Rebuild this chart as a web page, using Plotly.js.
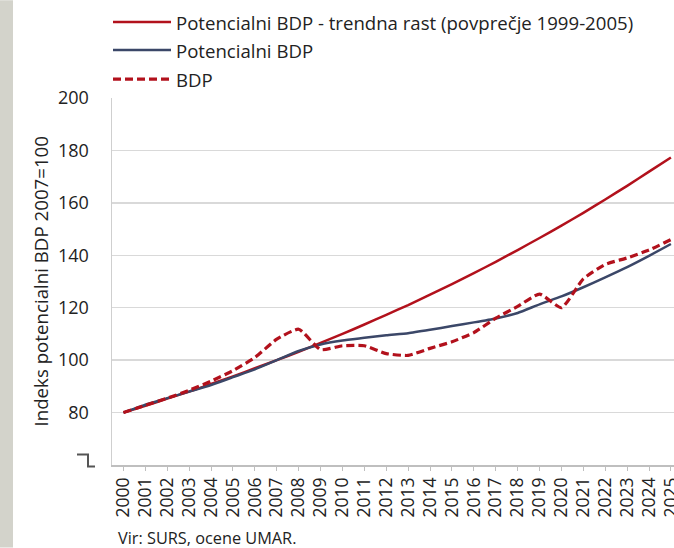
<!DOCTYPE html>
<html>
<head>
<meta charset="utf-8">
<script src="https://cdn.plot.ly/plotly-3.0.1.min.js"></script>
<style>html,body{margin:0;padding:0;background:#fff;}#chart{width:674px;height:548px;}</style>
</head>
<body>
<div id="chart"></div>
<script>
const years = [2000,2001,2002,2003,2004,2005,2006,2007,2008,2009,2010,2011,2012,2013,2014,2015,2016,2017,2018,2019,2020,2021,2022,2023,2024,2025];
const trend = [80,82.6,85.3,88.0,90.9,93.8,96.9,100,103.2,106.6,110.0,113.6,117.3,121.0,125.0,129.0,133.2,137.5,142.0,146.6,151.3,156.2,161.3,166.5,171.9,177.3];
const potential = [80,83,85.5,88,90.5,93.5,96.5,100,103.5,106,107.5,108.5,109.5,110.3,111.6,113,114.4,115.9,118,121.3,124.3,127.8,131.6,135.5,139.8,144.3];
const gdp = [80,82.8,85.5,88.5,92,96,101,108,111.8,104,105.5,105.5,102.5,101.8,104.5,107,110.5,116,120.5,125.2,120,131,136.5,139,142,146];
const seriesNames = ['Potencialni BDP - trendna rast (povprečje 1999-2005)','Potencialni BDP','BDP'];
const yTicks = [80,100,120,140,160,180,200];

const W = 674, H = 548, L = 112, R = 0, T = 98, B = 82.5;
const pw = W - L - R, ph = H - T - B;
const px = x => (x - L) / pw;
const py = y => (H - B - y) / ph;

const FONT = 'Open Sans, sans-serif';
const RED = '#b2111c', NAVY = '#3b4768';

const traces = [
  {x: years, y: trend, name: seriesNames[0], mode: 'lines', line: {color: RED, width: 2.5, shape: 'spline', smoothing: 0.5}},
  {x: years, y: potential, name: seriesNames[1], mode: 'lines', line: {color: NAVY, width: 2.5, shape: 'spline', smoothing: 0.5}},
  {x: years, y: gdp, name: seriesNames[2], mode: 'lines', line: {color: RED, width: 3.2, dash: '8px,4px', shape: 'spline', smoothing: 0.5}}
];

const legendRows = [22, 50, 79];
const legendStyles = [
  {color: RED, width: 2.5, dash: 'solid'},
  {color: NAVY, width: 2.5, dash: 'solid'},
  {color: RED, width: 3.2, dash: '8px,4px'}
];

const shapes = [
  {type: 'rect', xref: 'paper', yref: 'paper', x0: px(0), x1: px(13), y0: py(H), y1: py(0), fillcolor: '#d3d3cb', line: {width: 0}, layer: 'below'},
  {type: 'line', xref: 'paper', yref: 'y', x0: 0, x1: 1, y0: 100, y1: 100, line: {color: '#8a8a8a', width: 1.5}, layer: 'below'},
  {type: 'path', xref: 'paper', yref: 'paper', path: `M${px(77)},${py(455)} L${px(88)},${py(455)} L${px(88)},${py(467)} L${px(95)},${py(467)}`, line: {color: '#555', width: 2}}
];
const annotations = [
  {xref: 'paper', yref: 'paper', x: px(40), y: 0.5, text: 'Indeks potencialni BDP 2007=100', textangle: -90, showarrow: false, xanchor: 'center', yanchor: 'middle', font: {family: FONT, size: 18.7, color: '#222'}},
  {xref: 'paper', yref: 'paper', x: px(116), y: py(539), text: 'Vir: SURS, ocene UMAR.', showarrow: false, xanchor: 'left', yanchor: 'middle', font: {family: FONT, size: 16.3, color: '#222'}}
];
legendRows.forEach((ry, i) => {
  shapes.push({type: 'line', xref: 'paper', yref: 'paper', x0: px(113), x1: px(171), y0: py(ry), y1: py(ry), line: legendStyles[i]});
  annotations.push({xref: 'paper', yref: 'paper', x: px(174), y: py(ry), text: seriesNames[i], showarrow: false, xanchor: 'left', yanchor: 'middle', font: {family: FONT, size: 18.6, color: '#222'}});
});

const layout = {
  width: W, height: H,
  margin: {l: L, r: R, t: T, b: B},
  paper_bgcolor: '#fff', plot_bgcolor: '#fff',
  showlegend: false,
  font: {family: FONT, size: 18, color: '#222'},
  xaxis: {
    range: [1999.475, 2025.14], tickmode: 'array', tickvals: years, ticktext: years.map(String),
    tickangle: -90, ticks: 'outside', ticklen: 4, tickcolor: '#bfbfbf', showline: true, linecolor: '#bfbfbf', linewidth: 1.5,
    ticklabeloverflow: 'allow',
    showgrid: false, zeroline: false, tickfont: {family: FONT, size: 17.5, color: '#222'}, fixedrange: true
  },
  yaxis: {
    range: [60, 200], tickmode: 'array', tickvals: yTicks, ticktext: yTicks.map(String),
    showgrid: true, gridcolor: '#d9d9d9', gridwidth: 1.5, showline: true, linecolor: '#cfcfcf', linewidth: 1.5,
    zeroline: false, ticks: '', ticklabelstandoff: 18, tickfont: {family: FONT, size: 18, color: '#222'}, fixedrange: true
  },
  shapes: shapes,
  annotations: annotations
};

Plotly.newPlot('chart', traces, layout, {displayModeBar: false, staticPlot: true});
</script>
</body>
</html>
